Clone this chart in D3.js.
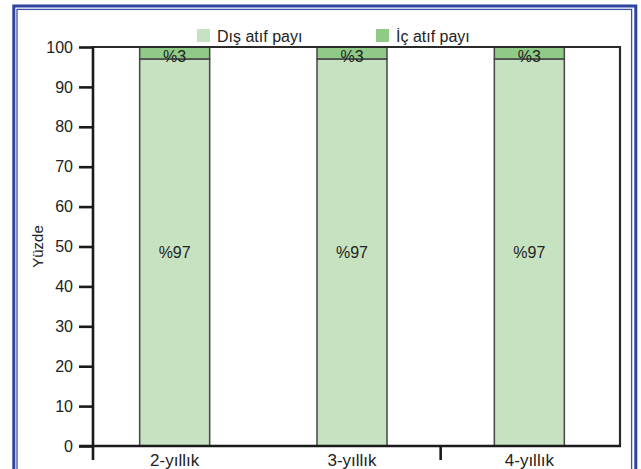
<!DOCTYPE html>
<html>
<head>
<meta charset="utf-8">
<script src="https://cdn.jsdelivr.net/npm/d3@7"></script>
<style>
  html, body { margin: 0; padding: 0; background: #fff; }
  svg { display: block; font-family: "Liberation Sans", Arial, Helvetica, sans-serif; }
</style>
</head>
<body>
<svg id="chart" width="641" height="469"></svg>
<script>
// Share of external vs. internal citations per time window
const categories = ["2-yıllık", "3-yıllık", "4-yıllık"];
const disAtif = [97, 97, 97];   // Dış atıf payı (%)
const icAtif = [3, 3, 3];       // İç atıf payı (%)
const seriesNames = ["Dış atıf payı", "İç atıf payı"];
const seriesColors = ["#c7e2c1", "#8fcb87"];
const yTicks = [0, 10, 20, 30, 40, 50, 60, 70, 80, 90, 100];
const yLabel = "Yüzde";

(function () {
  const svg = d3.select("#chart");
  const textColor = "#222";

  // plot frame
  const plotL = 93, plotR = 620, plotT = 47, plotB = 446;

  const x = d3.scaleBand().domain(categories).range([86, 618]).paddingInner(0.6).paddingOuter(0.3);
  const y = d3.scaleLinear().domain([0, 100]).range([plotB, plotT]);

  // blue double border around the figure
  svg.append("rect").attr("x", 13.8).attr("y", 6).attr("width", 622).attr("height", 480)
    .attr("fill", "none").attr("stroke", "#2c43a0").attr("stroke-width", 3);
  svg.append("rect").attr("x", 17).attr("y", 9.4).attr("width", 614.6).attr("height", 470)
    .attr("fill", "none").attr("stroke", "#3a52ab").attr("stroke-width", 1.3);

  // stacked data
  const stacked = d3.stack().keys([0, 1])(categories.map((c, i) => ({ cat: c, 0: disAtif[i], 1: icAtif[i] })));

  const bw = 70;
  const cx = c => x(c) + x.bandwidth() / 2;
  const groups = svg.append("g").selectAll("g").data(stacked).join("g")
    .attr("fill", (d, i) => seriesColors[i]);
  groups.selectAll("rect").data(d => d).join("rect")
    .attr("x", d => cx(d.data.cat) - bw / 2)
    .attr("width", bw)
    .attr("y", d => y(d[1]))
    .attr("height", d => y(d[0]) - y(d[1]))
    .attr("stroke", "#454545").attr("stroke-width", 1.5);

  // value labels
  svg.append("g").selectAll("text").data(categories).join("text")
    .attr("x", cx)
    .attr("y", (c, i) => y(disAtif[i] / 2) + 6)
    .attr("text-anchor", "middle").attr("font-size", 16).attr("fill", textColor)
    .text((c, i) => "%" + disAtif[i]);
  svg.append("g").selectAll("text").data(categories).join("text")
    .attr("x", cx)
    .attr("y", (c, i) => y(disAtif[i]) + 3)
    .attr("text-anchor", "middle").attr("font-size", 16).attr("fill", textColor)
    .text((c, i) => "%" + icAtif[i]);

  // frame: top and right edges
  svg.append("path")
    .attr("d", `M${plotL},${plotT}H${plotR}V${plotB}`)
    .attr("fill", "none").attr("stroke", "#2a2a2a").attr("stroke-width", 2.2);

  // y axis
  const yAxis = svg.append("g").attr("transform", `translate(${plotL},0)`)
    .call(d3.axisLeft(y).tickValues(yTicks).tickSize(14).tickPadding(6));
  yAxis.select(".domain").remove();
  yAxis.selectAll(".tick line").attr("stroke", "#1a1a1a").attr("stroke-width", 2.6);
  yAxis.selectAll(".tick text").attr("font-size", 16).attr("fill", textColor)
    .attr("font-family", "Liberation Sans, Arial, sans-serif");
  svg.append("line").attr("x1", plotL).attr("x2", plotL).attr("y1", plotT - 1).attr("y2", 460)
    .attr("stroke", "#1a1a1a").attr("stroke-width", 2.6);

  // x axis
  svg.append("line").attr("x1", plotL - 14).attr("x2", plotR + 1).attr("y1", plotB).attr("y2", plotB)
    .attr("stroke", "#1a1a1a").attr("stroke-width", 2.6);
  const sepX = x(categories[2]) - x.step() * x.paddingInner() / 2;
  svg.append("line").attr("x1", sepX).attr("x2", sepX)
    .attr("y1", plotB).attr("y2", 460)
    .attr("stroke", "#1a1a1a").attr("stroke-width", 2.6);
  svg.append("g").selectAll("text").data(categories).join("text")
    .attr("x", cx)
    .attr("y", 466)
    .attr("text-anchor", "middle").attr("font-size", 17).attr("fill", textColor)
    .text(c => c);

  // y axis title
  svg.append("text")
    .attr("transform", `translate(43,${y(50)}) rotate(-90)`)
    .attr("text-anchor", "middle").attr("font-size", 15).attr("fill", textColor)
    .text(yLabel);

  // legend
  const legendX = [197, 376];
  const legend = svg.append("g").selectAll("g").data(seriesNames).join("g")
    .attr("transform", (d, i) => `translate(${legendX[i]},29)`);
  legend.append("rect").attr("width", 13).attr("height", 13)
    .attr("fill", (d, i) => seriesColors[i]);
  legend.append("text").attr("x", 20).attr("y", 12.5)
    .attr("font-size", 16).attr("fill", textColor).text(d => d);
})();
</script>
</body>
</html>
